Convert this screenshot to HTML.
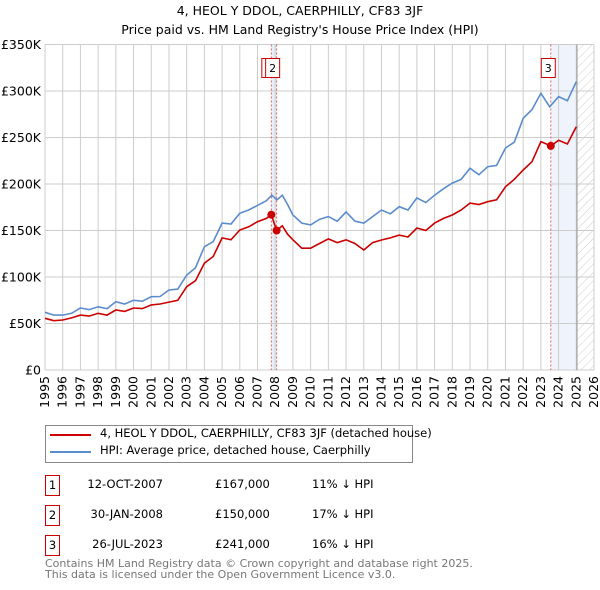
<!DOCTYPE html>
<html><head><meta charset="utf-8"><style>
body{margin:0;width:600px;height:590px;background:#fff;font-family:"DejaVu Sans","Liberation Sans",sans-serif;overflow:hidden;position:relative}
.t{position:absolute;white-space:nowrap}
</style></head><body>
<div class="t" style="left:0;width:600px;text-align:center;top:1px;font-size:12.5px;line-height:19px">4, HEOL Y DDOL, CAERPHILLY, CF83 3JF<br>Price paid vs. HM Land Registry's House Price Index (HPI)</div>
<svg id="chart" width="600" height="410" style="position:absolute;left:0;top:0" font-family="DejaVu Sans, Liberation Sans, sans-serif" font-size="12.5">
<defs><pattern id="hatch" width="6" height="6" patternUnits="userSpaceOnUse" patternTransform="rotate(45)"><line x1="0" y1="0" x2="0" y2="6" stroke="#ccc" stroke-width="1"/></pattern></defs>
</svg>
<div style="position:absolute;left:45px;top:425px;width:366px;height:36px;border:1px solid #888"></div>
<div style="position:absolute;left:50px;top:434px;width:41px;height:2px;background:#cc0000"></div>
<div class="t" style="left:100px;top:426px;font-size:11.5px">4, HEOL Y DDOL, CAERPHILLY, CF83 3JF (detached house)</div>
<div style="position:absolute;left:50px;top:451px;width:41px;height:2px;background:#5b8ccc"></div>
<div class="t" style="left:100px;top:443px;font-size:11.5px">HPI: Average price, detached house, Caerphilly</div>
<div id="rows"></div>
<div class="t" style="left:45px;top:559px;font-size:11px;line-height:10.5px;color:#777">Contains HM Land Registry data © Crown copyright and database right 2025.<br>This data is licensed under the Open Government Licence v3.0.</div>
<script>
const hpiYears=[1995,1995.5,1996,1996.5,1997,1997.5,1998,1998.5,1999,1999.5,2000,2000.5,2001,2001.5,2002,2002.5,2003,2003.5,2004,2004.5,2005,2005.5,2006,2006.5,2007,2007.5,2007.8,2008.1,2008.4,2008.7,2009,2009.5,2010,2010.5,2011,2011.5,2012,2012.5,2013,2013.5,2014,2014.5,2015,2015.5,2016,2016.5,2017,2017.5,2018,2018.5,2019,2019.5,2020,2020.5,2021,2021.5,2022,2022.5,2023,2023.5,2024,2024.5,2025];
const hpiValues=[62,59,59,61,66.7,65,68,66,73.4,71,75,74,78.8,79,86,87,102,110,132.6,138,158,157,168.5,172,177,182,188,183,188,178,166.7,158,156,162,165,160,170,160,158,165,172,168,175.6,172,185,180,188,195,201,205,217,210,218.6,220,238.7,245,270.6,280,297.5,283,294,289.6,310];
const ppYears=[1995,1995.5,1996,1996.5,1997,1997.5,1998,1998.5,1999,1999.5,2000,2000.5,2001,2001.5,2002,2002.5,2003,2003.5,2004,2004.5,2005,2005.5,2006,2006.5,2007,2007.5,2007.78,2008.08,2008.4,2008.7,2009,2009.5,2010,2010.5,2011,2011.5,2012,2012.5,2013,2013.5,2014,2014.5,2015,2015.5,2016,2016.5,2017,2017.5,2018,2018.5,2019,2019.5,2020,2020.5,2021,2021.5,2022,2022.5,2023,2023.56,2024,2024.5,2025];
const ppValues=[55.6,53,53.8,56,59,58,61,59,64.5,63,66.7,66,70,71,73,75,89.6,96,115,122,142,140,150.5,154,159.5,163,167,150,155,146,140,131,131,136,141,137,140,136,129,137,139.8,142,145,143,152.7,150,158,163,166.7,172,179.5,178,181,183,197,205,215,224,245.5,241,247,243,261.6];
const saleYears=[2007.78,2008.08,2023.56];
const saleValues=[167,150,241];
const saleDates=["12-OCT-2007","30-JAN-2008","26-JUL-2023"];
const salePrices=["£167,000","£150,000","£241,000"];
const saleDiffs=["11% ↓ HPI","17% ↓ HPI","16% ↓ HPI"];
const yTicks=[0,50,100,150,200,250,300,350];
const yTickLabels=["£0","£50K","£100K","£150K","£200K","£250K","£300K","£350K"];
const xTicks=[1995,1996,1997,1998,1999,2000,2001,2002,2003,2004,2005,2006,2007,2008,2009,2010,2011,2012,2013,2014,2015,2016,2017,2018,2019,2020,2021,2022,2023,2024,2025,2026];

const X0=45,X1=594,Y0=370,Y1=44.5;
const x=y=>X0+(y-1995)/31*(X1-X0);
const yv=v=>Y0-v/350*(Y0-Y1);
const svg=document.getElementById('chart');
const NS='http://www.w3.org/2000/svg';
function mk(t,a){const e=document.createElementNS(NS,t);for(const k in a)e.setAttribute(k,a[k]);svg.appendChild(e);return e;}
let e=mk('rect',{x:x(saleYears[0]),y:Y1,width:x(saleYears[1])-x(saleYears[0]),height:Y0-Y1,fill:'#e8eef8'});

e=mk('rect',{x:x(saleYears[2]),y:Y1,width:x(2025.04)-x(saleYears[2]),height:Y0-Y1,fill:'#eef3fc'});

e=mk('rect',{x:x(2025.04),y:Y1,width:X1-x(2025.04),height:Y0-Y1,fill:'url(#hatch)'});

xTicks.forEach(t=>{const g=mk('line',{x1:x(t),x2:x(t),y1:Y1,y2:Y0,stroke:'#ccc'});

const l=mk('text',{transform:`translate(${x(t)+4},${Y0+6}) rotate(-90)`,'text-anchor':'end'});l.textContent=t;
});
yTicks.forEach((t,i)=>{const g=mk('line',{x1:X0,x2:X1,y1:yv(t),y2:yv(t),stroke:'#ccc'});

const l=mk('text',{x:X0-4,y:yv(t)+4.5,'text-anchor':'end'});l.textContent=yTickLabels[i];
});
e=mk('line',{x1:x(2025.04),x2:x(2025.04),y1:Y1,y2:Y0,stroke:'#999'});

saleYears.forEach(s=>{const l=mk('line',{x1:x(s),x2:x(s),y1:Y1,y2:Y0,stroke:'#e06060','stroke-dasharray':'2,2'});
});
function path(xs,vs,c,n){const p=mk('path',{d:xs.map((a,i)=>(i?'L':'M')+x(a).toFixed(1)+','+yv(vs[i]).toFixed(1)).join(''),fill:'none',stroke:c,'stroke-width':1.6});
}
path(hpiYears,hpiValues,'#5b8ccc','hpi-line');
path(ppYears,ppValues,'#cc0000','price-paid-line');
saleYears.forEach((s,i)=>{const c=mk('circle',{cx:x(s),cy:yv(saleValues[i]),r:4,fill:'#cc0000'});
});
[[0,-9],[1,-10.5],[2,-9]].forEach(([i,dx])=>{const bx=x(saleYears[i])+dx;
const r=mk('rect',{x:bx-0.5,y:58.5,width:14,height:19,fill:'#fff',stroke:'#cc0000'});

const t=mk('text',{x:bx+6.5,y:72,'text-anchor':'middle','font-size':11});t.textContent=i+1;
});
const rows=document.getElementById('rows');
saleDates.forEach((d,i)=>{const top=475+i*30;
const b=document.createElement('div');b.className='t';b.textContent=i+1;
b.style.cssText=`left:45px;top:${top}px;width:13px;height:19px;border:1px solid #cc0000;text-align:center;font-size:11.5px;line-height:19px`;
rows.appendChild(b);
[[90,d,'sale-date'],[215,salePrices[i],'sale-price'],[312,saleDiffs[i],'sale-hpi-diff']].forEach(([l,txt,n])=>{
const c=document.createElement('div');c.className='t';c.textContent=txt;
c.style.cssText=`left:${l}px;top:${top+2}px;font-size:11.5px`;
if(n==='sale-date')c.style.cssText=`left:60px;width:103px;text-align:right;top:${top+2}px;font-size:11.5px`;
rows.appendChild(c);});});
</script>
</body></html>
